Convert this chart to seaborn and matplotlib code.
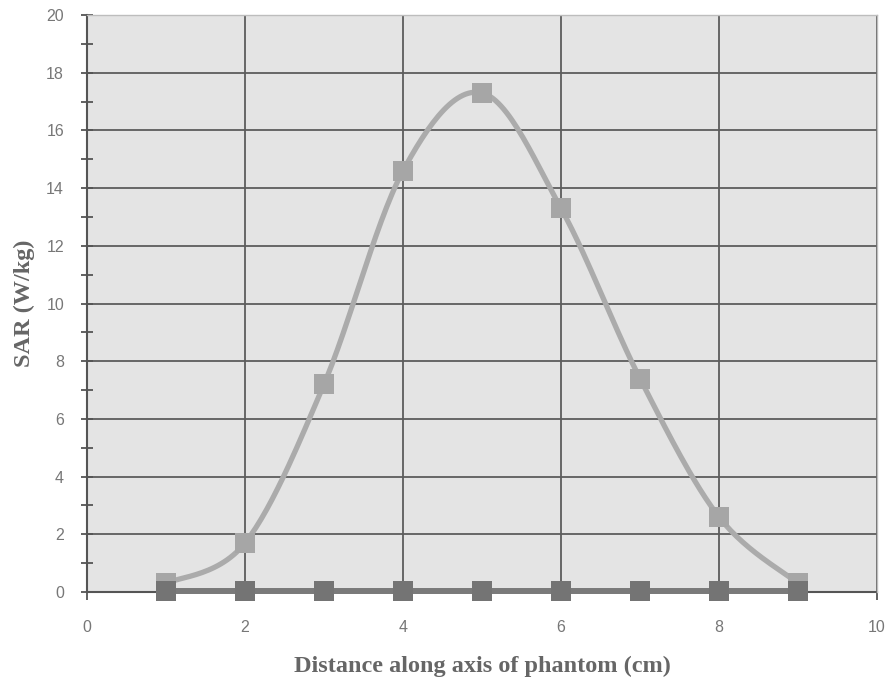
import numpy as np
import pandas as pd
import matplotlib
matplotlib.use("Agg")
import matplotlib.pyplot as plt
import seaborn as sns

# data
distance = [1, 2, 3, 4, 5, 6, 7, 8, 9]
sar_axis = [0.3, 1.7, 7.2, 14.6, 17.3, 13.3, 7.4, 2.6, 0.3]
sar_off = [0.02, 0.02, 0.02, 0.02, 0.02, 0.02, 0.02, 0.02, 0.02]
x_ticks = [0, 2, 4, 6, 8, 10]
y_ticks = [0, 2, 4, 6, 8, 10, 12, 14, 16, 18, 20]


def smooth(xs, ys, n=30):
    # Excel style smoothed line (Catmull-Rom as cubic bezier)
    p = np.column_stack([xs, ys]).astype(float)
    p = np.vstack([p[0], p, p[-1]])
    out = []
    t = np.linspace(0, 1, n)[:, None]
    for i in range(1, len(p) - 2):
        p0, p3 = p[i], p[i + 1]
        c1 = p0 + (p[i + 1] - p[i - 1]) / 6
        c2 = p3 - (p[i + 2] - p[i]) / 6
        seg = ((1 - t) ** 3) * p0 + 3 * ((1 - t) ** 2) * t * c1 + 3 * (1 - t) * t ** 2 * c2 + t ** 3 * p3
        out.append(seg)
    out = np.vstack(out)
    return out[:, 0], out[:, 1]


sns.set_style("white")
plt.rcParams["font.family"] = ["Liberation Sans", "DejaVu Sans"]

fig = plt.figure(figsize=(8.87, 6.86), dpi=100)
ax = fig.add_axes([87 / 887, 94 / 686, 790 / 887, 577 / 686])
ax.set_facecolor("#e4e4e4")

sx, sy = smooth(distance, sar_axis)
curve = pd.DataFrame({"x": sx, "y": sy})
sns.lineplot(data=curve, x="x", y="y", sort=False, color="#ababab", lw=3.8, ax=ax, zorder=3)
pts = pd.DataFrame({"x": distance, "y": sar_axis})
sns.scatterplot(data=pts, x="x", y="y", marker="s", s=200, color="#a6a6a6", linewidth=0, ax=ax, zorder=4)

flat = pd.DataFrame({"x": distance, "y": sar_off})
sns.lineplot(data=flat, x="x", y="y", color="#7a7a7a", lw=4.3, ax=ax, zorder=5)
sns.scatterplot(data=flat, x="x", y="y", marker="s", s=200, color="#747474", linewidth=0, ax=ax,
                zorder=6, clip_on=False)
for ln in ax.lines:
    ln.set_clip_on(False)

ax.set_xlim(0, 10)
ax.set_ylim(0, 20)
ax.set_xticks(x_ticks)
ax.set_yticks(y_ticks)
ax.set_yticks(np.arange(1, 20, 2), minor=True)
ax.grid(True, which="major", color="#5c5c5c", lw=1.3, zorder=1)
ax.set_axisbelow(True)

for s in ["top", "right"]:
    ax.spines[s].set_color("#bdbdbd")
    ax.spines[s].set_linewidth(1.0)
for s in ["left", "bottom"]:
    ax.spines[s].set_color("#555555")
    ax.spines[s].set_linewidth(1.5)
    ax.spines[s].set_zorder(2)

ax.tick_params(axis="y", which="both", direction="inout", length=9, width=1.3, color="#555555",
               labelsize=11.5, labelcolor="#777777", pad=12, left=True)
ax.tick_params(axis="x", direction="out", length=6, width=1.3, color="#555555",
               labelsize=11.5, labelcolor="#777777", pad=14, bottom=True)

ax.set_xlabel("Distance along axis of phantom (cm)", fontsize=17.5, fontweight="bold",
              family="Liberation Serif", color="#666666", labelpad=15)
ax.set_ylabel("SAR (W/kg)", fontsize=17.5, fontweight="bold",
              family="Liberation Serif", color="#666666", labelpad=8)

fig.savefig("out.png", dpi=100)
